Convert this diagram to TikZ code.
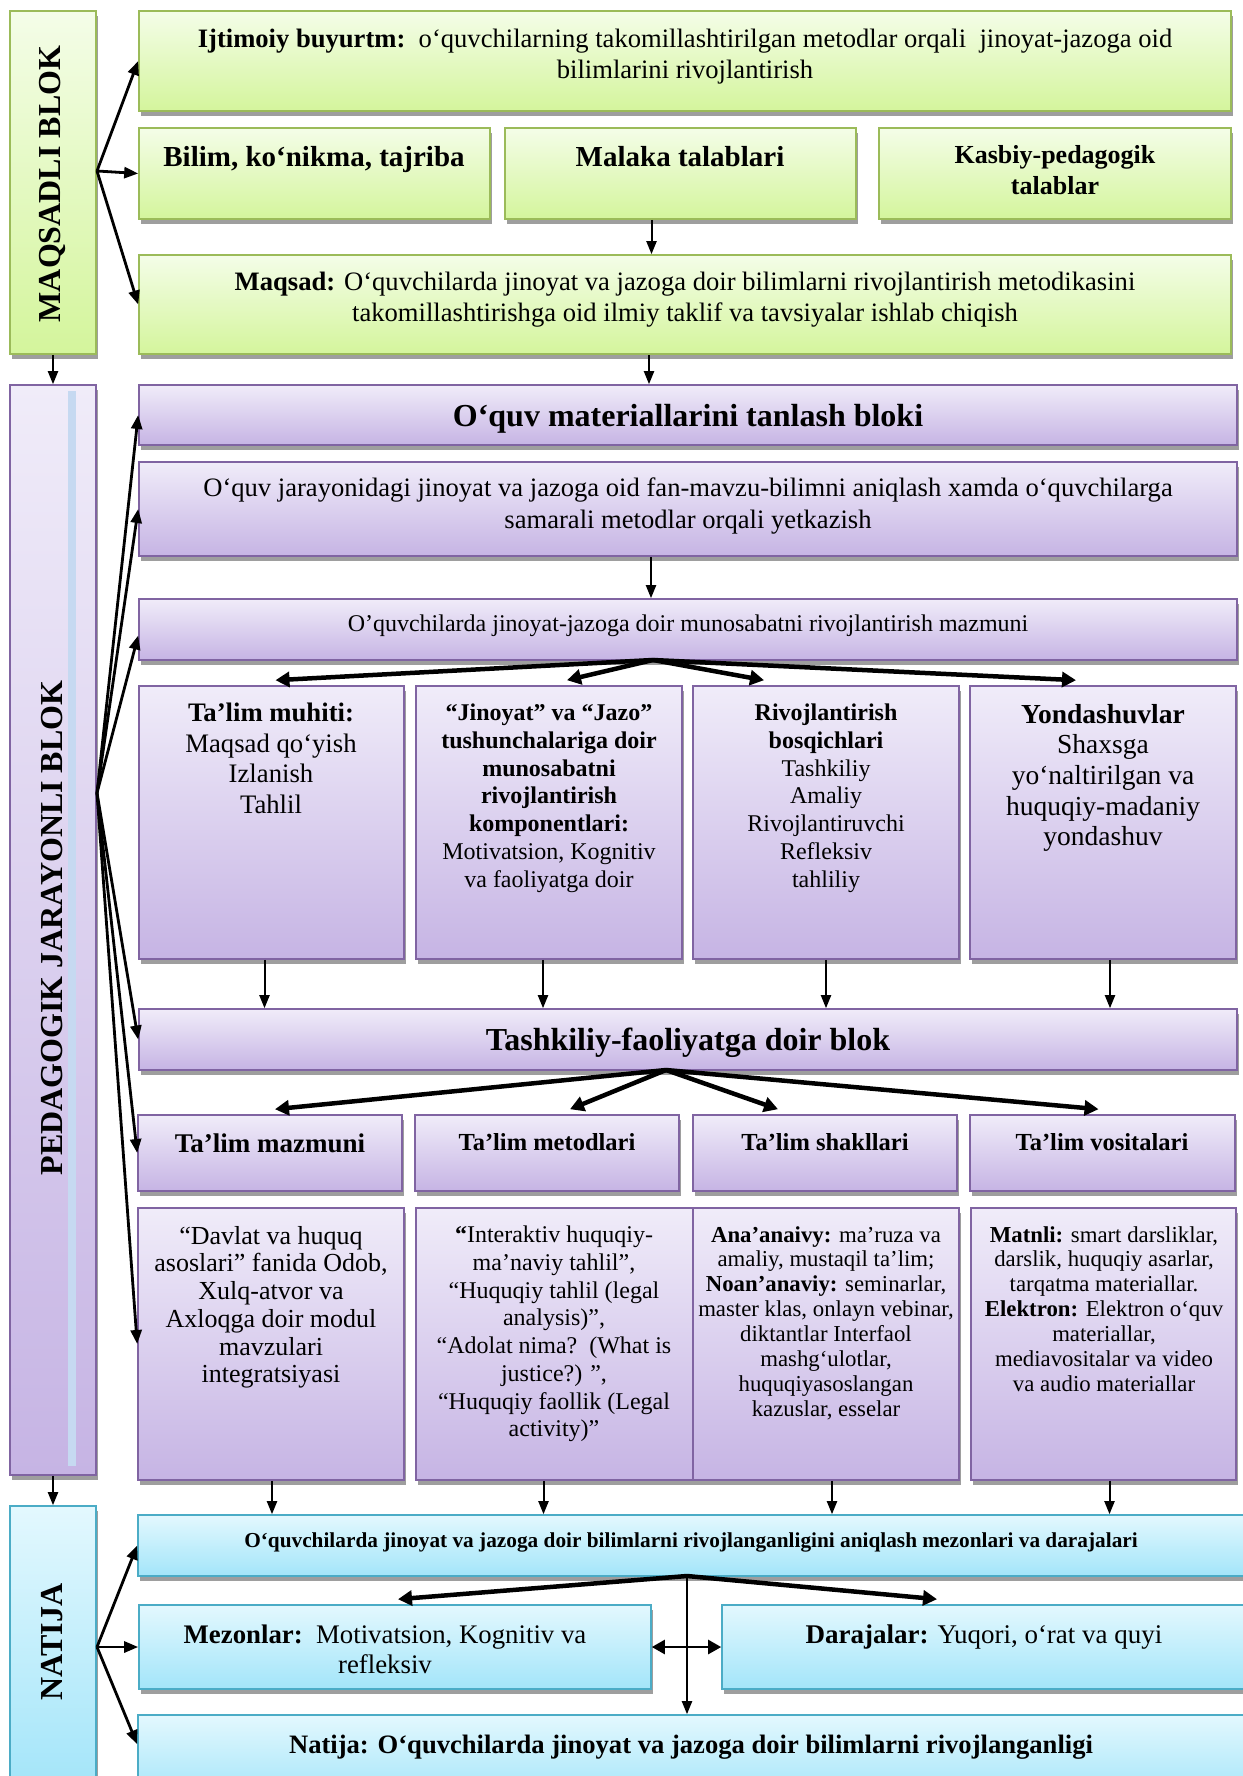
\documentclass[tikz,border=0pt]{standalone}
\usepackage{fontspec}
\setmainfont{Liberation Serif}
\usetikzlibrary{arrows.meta,calc}
\definecolor{gT}{HTML}{F4FDE8}
\definecolor{gBo}{HTML}{D4F59C}
\definecolor{gB}{HTML}{9BBB59}
\definecolor{pT}{HTML}{F0ECF9}
\definecolor{pBo}{HTML}{C6B4E4}
\definecolor{pB}{HTML}{8064A2}
\definecolor{bT}{HTML}{E3F8FE}
\definecolor{bBo}{HTML}{A3E5F9}
\definecolor{bB}{HTML}{4BACC6}
\definecolor{shadowc}{HTML}{9E9E9E}
\definecolor{stripc}{HTML}{C6D9F1}
\newcommand{\fs}[2]{\fontsize{#1}{#2}\selectfont}
\tikzset{
 boxg/.style={draw=gB, line width=1.6pt, top color=gT, bottom color=gBo, inner sep=0pt},
 boxp/.style={draw=pB, line width=1.6pt, top color=pT, bottom color=pBo, inner sep=0pt},
 boxb/.style={draw=bB, line width=1.6pt, top color=bT, bottom color=bBo, inner sep=0pt},
 txt/.style={align=center, inner sep=0pt, anchor=north},
 vlab/.style={rotate=90, inner sep=0pt, font=\fs{32}{36}\bfseries},
 arr/.style={line width=2pt, -{Triangle[length=13pt,width=10pt]}},
 spoke/.style={line width=2.8pt, -{Triangle[length=14pt,width=11pt]}},
 fan/.style={line width=4.5pt, -{Triangle[length=14pt,width=15pt]}},
}
\newcommand{\bx}[7]{%
 \fill[shadowc] (#2+2,#3+5) rectangle (#4+2,#5+5);
 \node[#6, minimum width={(#4-#2)*1pt}, minimum height={(#5-#3)*1pt}] (#1) at ({(#2+#4)/2},{(#3+#5)/2}) {#7};
}
\begin{document}
\begin{tikzpicture}[x=1pt,y=-1pt]
\useasboundingbox (0,0) rectangle (1242,1776);
% ---------- green block
\bx{mb}{10}{11}{96}{354}{boxg}{}
\bx{ijt}{139}{11}{1231}{111}{boxg}{}
\bx{bil}{139}{128}{490}{219}{boxg}{}
\bx{mal}{505}{128}{856}{219}{boxg}{}
\bx{kas}{879}{128}{1231}{219}{boxg}{}
\bx{maq}{139}{255}{1231}{354}{boxg}{}
% ---------- purple block
\bx{pj}{10}{385}{96}{1475}{boxp}{}
\fill[stripc] (68,391) rectangle (76,1466);
\bx{omt}{139}{385}{1237}{445}{boxp}{}
\bx{ojar}{139}{462}{1237}{556}{boxp}{}
\bx{mun}{139}{599}{1237}{660}{boxp}{}
\bx{b1}{139}{686}{404}{959}{boxp}{}
\bx{b2}{416}{686}{682}{959}{boxp}{}
\bx{b3}{693}{686}{959}{959}{boxp}{}
\bx{b4}{970}{686}{1236}{959}{boxp}{}
\bx{tash}{139}{1009}{1237}{1070}{boxp}{}
\bx{h1}{138}{1115}{402}{1191}{boxp}{}
\bx{h2}{415}{1115}{679}{1191}{boxp}{}
\bx{h3}{693}{1115}{957}{1191}{boxp}{}
\bx{h4}{970}{1115}{1235}{1191}{boxp}{}
\bx{c1}{138}{1208}{404}{1480}{boxp}{}
\bx{c2}{416}{1208}{693}{1480}{boxp}{}
\bx{c3}{693}{1208}{959}{1480}{boxp}{}
\bx{c4}{971}{1208}{1236}{1480}{boxp}{}
% ---------- blue block
\bx{nb}{10}{1506}{96}{1790}{boxb}{}
\bx{mez}{138}{1515}{1250}{1576}{boxb}{}
\bx{mzn}{139}{1605}{651}{1689}{boxb}{}
\bx{dar}{722}{1605}{1250}{1689}{boxb}{}
\bx{nat}{138}{1715}{1250}{1800}{boxb}{}
% ---------- vertical labels
\node[vlab] (lmb) at (52,184) {MAQSADLI BLOK};
\node[vlab] (lpj) at (52,928) {PEDAGOGIK JARAYONLI BLOK};
\node[vlab] (lnb) at (52,1642) {NATIJA};
% ---------- texts
\node[txt, font=\fs{26.6}{31}] (tijt) at (685,29) {\textbf{Ijtimoiy buyurtm:}\ \ o‘quvchilarning takomillashtirilgan metodlar orqali\ \ jinoyat-jazoga oid\\ bilimlarini rivojlantirish};
\node[txt, font=\fs{29}{34}\bfseries] (tbil) at (314,146) {Bilim, ko‘nikma, tajriba};
\node[txt, font=\fs{29}{34}\bfseries] (tmal) at (680,146) {Malaka talablari};
\node[txt, font=\fs{26}{31}\bfseries] (tkas) at (1055,145) {Kasbiy-pedagogik\\ talablar};
\node[txt, font=\fs{26.6}{30.5}] (tmaq) at (685,272) {\textbf{Maqsad:} O‘quvchilarda jinoyat va jazoga doir bilimlarni rivojlantirish metodikasini\\ takomillashtirishga oid ilmiy taklif va tavsiyalar ishlab chiqish};
\node[txt, font=\fs{26.6}{31.5}] (tojar) at (688,478) {O‘quv jarayonidagi jinoyat va jazoga oid fan-mavzu-bilimni aniqlash xamda o‘quvchilarga\\ samarali metodlar orqali yetkazish};
\node[txt, font=\fs{24}{28}] (tmun) at (688,615) {O’quvchilarda jinoyat-jazoga doir munosabatni rivojlantirish mazmuni};
\node[anchor=base, inner sep=0pt, font=\fs{32}{38}\bfseries] (tomt) at (688,426) {O‘quv materiallarini tanlash bloki};
\node[anchor=base, inner sep=0pt, font=\fs{32}{38}\bfseries] (ttash) at (688,1050) {Tashkiliy-faoliyatga doir blok};
\node[txt, font=\fs{26.7}{30.6}] (tb1) at (271,703) {\textbf{Ta’lim muhiti:}\\ Maqsad qo‘yish\\ Izlanish\\ Tahlil};
\node[txt, font=\fs{24}{27.7}] (tb2) at (549,704) {\textbf{“Jinoyat” va “Jazo”}\\ \textbf{tushunchalariga doir}\\ \textbf{munosabatni}\\ \textbf{rivojlantirish}\\ \textbf{komponentlari:}\\ Motivatsion, Kognitiv\\ va faoliyatga doir};
\node[txt, font=\fs{24}{27.7}] (tb3) at (826,704) {\textbf{Rivojlantirish}\\ \textbf{bosqichlari}\\ Tashkiliy\\ Amaliy\\ Rivojlantiruvchi\\ Refleksiv\\ tahliliy};
\node[txt, font=\fs{27.5}{30.6}] (tb4) at (1103,704) {\textbf{Yondashuvlar}\\ Shaxsga\\ yo‘naltirilgan va\\ huquqiy-madaniy\\ yondashuv};
\node[txt, font=\fs{27}{30}\bfseries] (th1) at (270,1134) {Ta’lim mazmuni};
\node[txt, font=\fs{24.5}{30}\bfseries] (th2) at (547,1133) {Ta’lim metodlari};
\node[txt, font=\fs{24.5}{30}\bfseries] (th3) at (825,1133) {Ta’lim shakllari};
\node[txt, font=\fs{24.5}{30}\bfseries] (th4) at (1102,1133) {Ta’lim vositalari};
\node[txt, font=\fs{26}{27.7}] (tc1) at (271,1226) {“Davlat va huquq\\ asoslari” fanida Odob,\\ Xulq-atvor va\\ Axloqga doir modul\\ mavzulari\\ integratsiyasi};
\node[txt, font=\fs{24}{27.7}] (tc2) at (554,1226) {\textbf{“}Interaktiv huquqiy-\\ ma’naviy tahlil”,\\ “Huquqiy tahlil (legal\\ analysis)”,\\ “Adolat nima?\ \ (What is\\ justice?) ”,\\ “Huquqiy faollik (Legal\\ activity)”};
\node[txt, font=\fs{22.8}{24.9}] (tc3) at (826,1226) {\textbf{Ana’anaivy:} ma’ruza va\\ amaliy, mustaqil ta’lim;\\ \textbf{Noan’anaviy:} seminarlar,\\ master klas, onlayn vebinar,\\ diktantlar Interfaol\\ mashg‘ulotlar,\\ huquqiyasoslangan\\ kazuslar, esselar};
\node[txt, font=\fs{22.8}{24.9}] (tc4) at (1104,1226) {\textbf{Matnli:} smart darsliklar,\\ darslik, huquqiy asarlar,\\ tarqatma materiallar.\\ \textbf{Elektron:} Elektron o‘quv\\ materiallar,\\ mediavositalar va video\\ va audio materiallar};
\node[txt, font=\fs{21.3}{25}\bfseries] (tmez) at (691,1533) {O‘quvchilarda jinoyat va jazoga doir bilimlarni rivojlanganligini aniqlash mezonlari va darajalari};
\node[txt, font=\fs{26.8}{30}] (tmzn) at (385,1625) {\textbf{Mezonlar:}\ \ Motivatsion, Kognitiv va\\ refleksiv};
\node[txt, font=\fs{27}{30}] (tdar) at (984,1625) {\textbf{Darajalar:} Yuqori, o‘rat va quyi};
\node[txt, font=\fs{26.6}{30}\bfseries] (tnat) at (691,1735) {Natija: O‘quvchilarda jinoyat va jazoga doir bilimlarni rivojlanganligi};
% ---------- connectors: green block
\coordinate (mbo) at (97,171);
\draw[spoke] (mbo) -- (ijt.west);
\draw[spoke] (mbo) -- (bil.west);
\draw[spoke] (mbo) -- (maq.west);
\draw[arr] (mb.south) -- (pj.north);
\coordinate (malb) at ([xshift=-29pt]mal.south);
\draw[arr] (malb) -- (malb |- maq.north);
\coordinate (maqb) at ([xshift=-36pt]maq.south);
\draw[arr] (maqb) -- (maqb |- omt.north);
% ---------- connectors: purple block
\coordinate (pjo) at (97,793);
\draw[spoke] (pjo) -- (omt.west);
\draw[spoke] (pjo) -- (ojar.west);
\draw[spoke] (pjo) -- ($(mun.west)+(0,6)$);
\draw[spoke] (pjo) -- (tash.west);
\draw[spoke] (pjo) -- (h1.west);
\draw[spoke] (pjo) -- (c1.west);
\coordinate (ojarb) at ([xshift=-37pt]ojar.south);
\draw[arr] (ojarb) -- (ojarb |- mun.north);
\coordinate (munb) at (653,660);
\draw[fan] (munb) -- ($(b1.north)+(4,-5)$);
\draw[fan] (munb) -- ($(b2.north)+(18,-5)$);
\draw[fan] (munb) -- ($(b3.north)+(-62,-5)$);
\draw[fan] (munb) -- ($(b4.north)+(-27,-5)$);
\coordinate (b1b) at ([xshift=-7pt]b1.south);
\coordinate (b2b) at ([xshift=-6pt]b2.south);
\coordinate (b3b) at (b3.south);
\coordinate (b4b) at ([xshift=7pt]b4.south);
\draw[arr] (b1b) -- (b1b |- tash.north);
\draw[arr] (b2b) -- (b2b |- tash.north);
\draw[arr] (b3b) -- (b3b |- tash.north);
\draw[arr] (b4b) -- (b4b |- tash.north);
\coordinate (tashb) at (666,1070);
\draw[fan] (tashb) -- ($(h1.north)+(5,-5)$);
\draw[fan] (tashb) -- ($(h2.north)+(23,-5)$);
\draw[fan] (tashb) -- ($(h3.north)+(-47,-5)$);
\draw[fan] (tashb) -- ($(h4.north)+(-4,-5)$);
\coordinate (c1b) at ([xshift=1pt]c1.south);
\coordinate (c2b) at ([xshift=-11pt]c2.south);
\coordinate (c3b) at ([xshift=6pt]c3.south);
\coordinate (c4b) at ([xshift=6pt]c4.south);
\draw[arr] (c1b) -- (c1b |- mez.north);
\draw[arr] (c2b) -- (c2b |- mez.north);
\draw[arr] (c3b) -- (c3b |- mez.north);
\draw[arr] (c4b) -- (c4b |- mez.north);
\draw[arr] (pj.south) -- (nb.north);
% ---------- connectors: blue block
\coordinate (nbo) at (97,1647);
\draw[spoke] (nbo) -- (mez.west);
\draw[spoke] (nbo) -- (mzn.west);
\draw[spoke] (nbo) -- ($(nat.north west)+(0,30)$);
\coordinate (mezb) at (687,1576);
\draw[fan] (mezb) -- ($(mzn.north)+(3,-5)$);
\draw[fan] (mezb) -- ($(dar.north)+(-49,-5)$);
\draw[arr] (mezb) -- (mezb |- nat.north);
\draw[line width=2.5pt, {Triangle[length=13pt,width=14pt]}-{Triangle[length=13pt,width=14pt]}] (mzn.east) -- (dar.west);
\end{tikzpicture}
\end{document}
